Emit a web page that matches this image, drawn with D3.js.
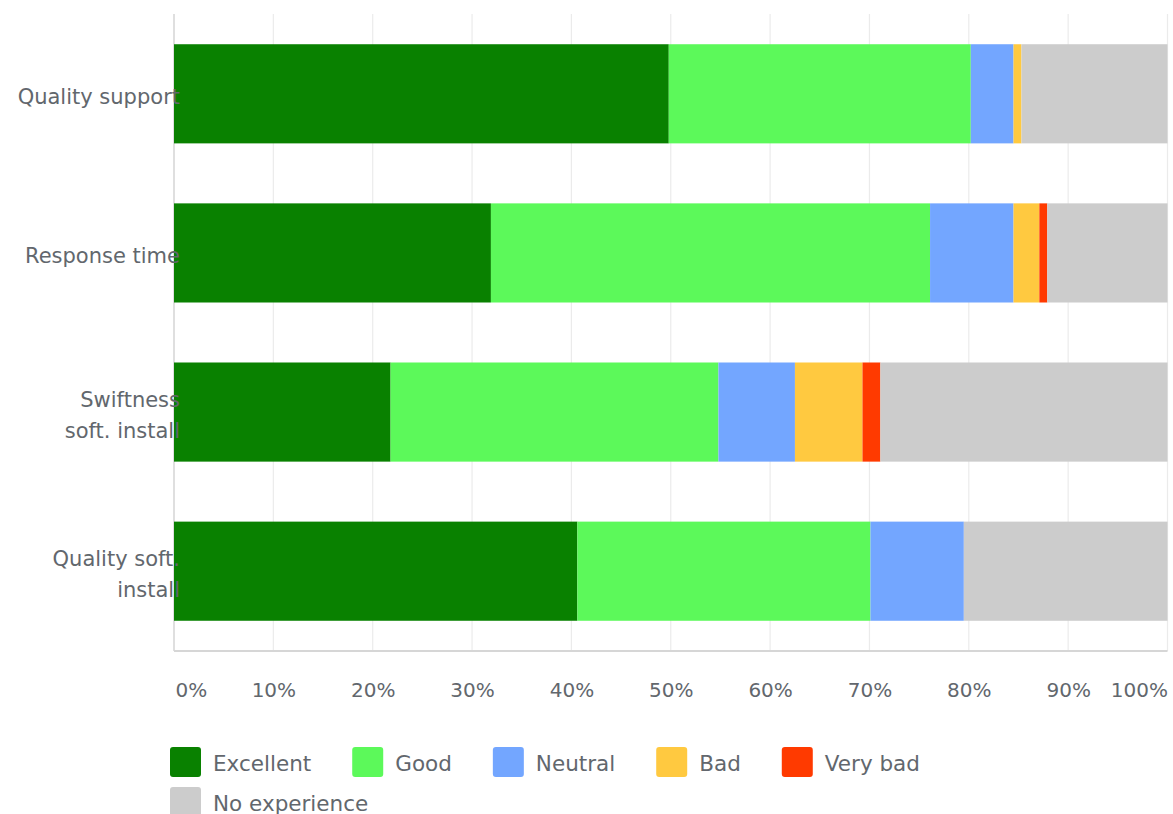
<!DOCTYPE html>
<html>
<head>
<meta charset="utf-8">
<script src="https://cdn.jsdelivr.net/npm/d3@7"></script>
<style>
  html, body { margin: 0; padding: 0; background: #fff; }
  svg { display: block; font-family: "DejaVu Sans", sans-serif; }
</style>
</head>
<body>
<svg id="chart" width="1173" height="814"></svg>
<script>
// Survey answers per question, in percent of respondents
const questions = [
  ["Quality support"],
  ["Response time"],
  ["Swiftness", "soft. install"],
  ["Quality soft.", "install"]
];
const answers = ["Excellent", "Good", "Neutral", "Bad", "Very bad", "No experience"];
const colors  = ["#098100", "#5cf95a", "#73a6ff", "#ffc940", "#ff3a00", "#cccccc"];

const excellent    = [49.8, 31.9, 21.8, 40.6];
const good         = [30.4, 44.2, 33.0, 29.5];
const neutral      = [4.3, 8.4, 7.7, 9.4];
const bad          = [0.8, 2.6, 6.8, 0.0];
const veryBad      = [0.0, 0.8, 1.8, 0.0];
const noExperience = [14.7, 12.1, 28.9, 20.5];

const tickValues = [0, 10, 20, 30, 40, 50, 60, 70, 80, 90, 100];

const series = [excellent, good, neutral, bad, veryBad, noExperience];

// rows for d3.stack
const rows = questions.map((q, i) => {
  const r = { key: i };
  answers.forEach((a, j) => { r[a] = series[j][i]; });
  return r;
});
const stacked = d3.stack().keys(answers)(rows);

const svg = d3.select("#chart");
const plotLeft = 174, plotRight = 1167.5, plotTop = 14, plotBottom = 651;
const textColor = "#62676d";

const x = d3.scaleLinear().domain([0, 100]).range([plotLeft, plotRight]);
const y = d3.scaleBand().domain(d3.range(questions.length))
  .range([plotTop, plotBottom]).paddingInner(0.377).paddingOuter(0.19);
const color = d3.scaleOrdinal().domain(answers).range(colors);

// vertical grid
svg.append("g").selectAll("line").data(tickValues).join("line")
  .attr("x1", d => x(d)).attr("x2", d => x(d))
  .attr("y1", plotTop).attr("y2", plotBottom)
  .attr("stroke", d => d === 0 ? "#d4d4d4" : "#ebebeb")
  .attr("stroke-width", d => d === 0 ? 1.5 : 1.2);

// bottom axis line
svg.append("line")
  .attr("x1", plotLeft).attr("x2", plotRight)
  .attr("y1", plotBottom).attr("y2", plotBottom)
  .attr("stroke", "#d6d6d6").attr("stroke-width", 2);

// stacked bars
svg.append("g").selectAll("g").data(stacked).join("g")
  .attr("fill", d => color(d.key))
  .selectAll("rect").data(d => d).join("rect")
  .attr("x", d => x(d[0]))
  .attr("width", d => x(d[1]) - x(d[0]))
  .attr("y", (d, i) => y(i))
  .attr("height", y.bandwidth());

// x-axis labels
const xAxis = d3.axisBottom(x).tickValues(tickValues)
  .tickFormat(d => d + "%").tickSize(0).tickPadding(0);
const ax = svg.append("g").attr("transform", `translate(0,${plotBottom})`).call(xAxis);
ax.select(".domain").remove();
ax.selectAll("text")
  .attr("y", 46).attr("dy", 0)
  .attr("fill", textColor)
  .style("font-size", "20px")
  .style("font-family", "DejaVu Sans, sans-serif")
  .attr("text-anchor", d => d === 0 ? "start" : d === 100 ? "end" : "middle")
  .attr("dx", d => d === 0 ? 1 : 0);

// category labels (drawn over the bars' left edge)
const lab = svg.append("g").selectAll("text").data(questions).join("text")
  .attr("text-anchor", "end")
  .attr("fill", textColor)
  .style("font-size", "21px");
lab.each(function (lines, i) {
  const cy = y(i) + y.bandwidth() / 2 + 3;
  const lh = 31;
  const t = d3.select(this);
  lines.forEach((ln, k) => {
    t.append("tspan")
      .attr("x", 180)
      .attr("y", cy + (k - (lines.length - 1) / 2) * lh)
      .attr("dy", "0.35em")
      .text(ln);
  });
});

// legend
const legend = svg.append("g");
const lx0 = 170, maxX = 1000, rowH = 40, sw = 31;
let lx = lx0, ly = 747;
answers.forEach((a, i) => {
  const g = legend.append("g");
  g.append("rect").attr("width", sw).attr("height", 30).attr("rx", 3)
    .attr("fill", colors[i]);
  const t = g.append("text").attr("x", sw + 12).attr("y", 24)
    .attr("fill", textColor).style("font-size", "21.5px").text(a);
  const w = sw + 12 + t.node().getComputedTextLength();
  if (lx + w > maxX && lx > lx0) { lx = lx0; ly += rowH; }
  g.attr("transform", `translate(${lx},${ly})`);
  lx += w + 41;
});
</script>
</body>
</html>
